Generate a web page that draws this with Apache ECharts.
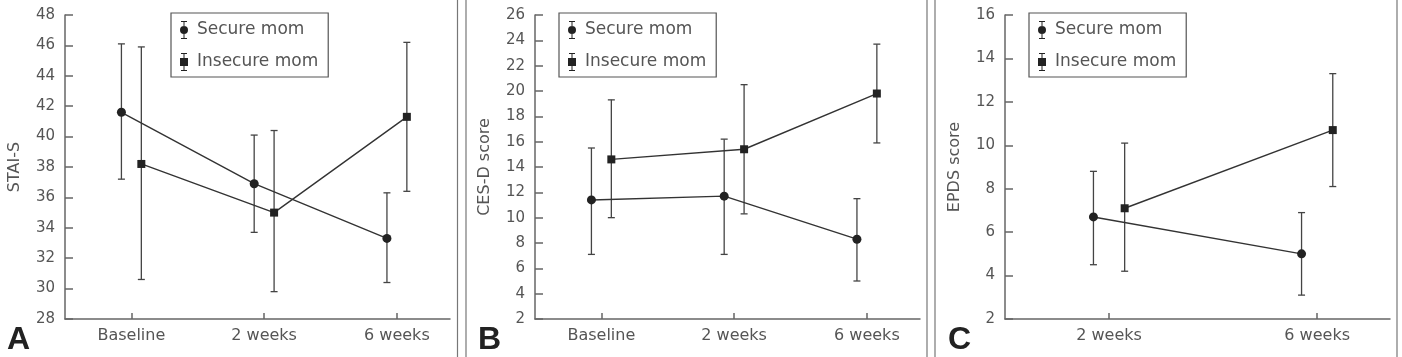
<!DOCTYPE html>
<html>
<head>
<meta charset="utf-8">
<title>STAI-S / CES-D / EPDS by attachment</title>
<script src="https://cdn.jsdelivr.net/npm/echarts@6/dist/echarts.min.js"></script>
<style>
  html, body { margin: 0; padding: 0; background: #fff; }
  #chart { width: 1402px; height: 357px; }
</style>
</head>
<body>
<div id="chart"></div>
<script>
// time points
const catsBase = ['Baseline', '2 weeks', '6 weeks'];
const catsEpds = ['2 weeks', '6 weeks'];

// A: STAI-S
const staiSecure = [41.6, 36.9, 33.3];
const staiSecureLow = [37.2, 33.7, 30.4];
const staiSecureHigh = [46.1, 40.1, 36.3];
const staiInsecure = [38.2, 35.0, 41.3];
const staiInsecureLow = [30.6, 29.8, 36.4];
const staiInsecureHigh = [45.9, 40.4, 46.2];

// B: CES-D
const cesdSecure = [11.4, 11.7, 8.3];
const cesdSecureLow = [7.1, 7.1, 5.0];
const cesdSecureHigh = [15.5, 16.2, 11.5];
const cesdInsecure = [14.6, 15.4, 19.8];
const cesdInsecureLow = [10.0, 10.3, 15.9];
const cesdInsecureHigh = [19.3, 20.5, 23.7];

// C: EPDS
const epdsSecure = [6.7, 5.0];
const epdsSecureLow = [4.5, 3.1];
const epdsSecureHigh = [8.8, 6.9];
const epdsInsecure = [7.1, 10.7];
const epdsInsecureLow = [4.2, 8.1];
const epdsInsecureHigh = [10.1, 13.3];

const yRanges = [[28, 48], [2, 26], [2, 16]];
const yNames = ['STAI-S', 'CES-D score', 'EPDS score'];
const panelLetters = ['A', 'B', 'C'];

const FONT = 'DejaVu Sans';
const TEXT = '#555';
const AXIS = '#666';
const INK = '#222';
const SHIFT = 0.075; // horizontal dodge between groups

const circleIcon = 'path://M1,0H7V1H1Z M3.5,0H4.5V18H3.5Z M1,17H7V18H1Z M0,9A4,4 0 1 1 8,9A4,4 0 1 1 0,9Z';
const squareIcon = 'path://M1,0H7V1H1Z M3.5,0H4.5V18H3.5Z M1,17H7V18H1Z M0,5H8V13H0Z';

const panels = [
  {cats: catsBase, xmax: 2.4, left: 65, sec: [staiSecure, staiSecureLow, staiSecureHigh], ins: [staiInsecure, staiInsecureLow, staiInsecureHigh]},
  {cats: catsBase, xmax: 2.4, left: 535, sec: [cesdSecure, cesdSecureLow, cesdSecureHigh], ins: [cesdInsecure, cesdInsecureLow, cesdInsecureHigh]},
  {cats: catsEpds, xmax: 1.35, left: 1005, sec: [epdsSecure, epdsSecureLow, epdsSecureHigh], ins: [epdsInsecure, epdsInsecureLow, epdsInsecureHigh]}
];

function renderErr(params, api) {
  const x = api.value(0);
  const lo = api.coord([x, api.value(1)]);
  const hi = api.coord([x, api.value(2)]);
  const c = 3.5;
  const style = {stroke: '#444', lineWidth: 1.3};
  return {
    type: 'group',
    children: [
      {type: 'line', shape: {x1: lo[0], y1: lo[1], x2: hi[0], y2: hi[1]}, style: style},
      {type: 'line', shape: {x1: hi[0] - c, y1: hi[1], x2: hi[0] + c, y2: hi[1]}, style: style},
      {type: 'line', shape: {x1: lo[0] - c, y1: lo[1], x2: lo[0] + c, y2: lo[1]}, style: style}
    ]
  };
}

const grid = [], xAxis = [], yAxis = [], series = [], legend = [];

panels.forEach(function (p, i) {
  const idx = p.cats.map(function (c, k) { return k; });
  grid.push({left: p.left, top: 15, width: 385, height: 304});
  xAxis.push({
    type: 'value', gridIndex: i, min: -0.5, max: p.xmax,
    splitLine: {show: false},
    axisLine: {onZero: false, lineStyle: {color: AXIS, width: 1.5}},
    axisTick: {inside: true, length: 6, customValues: idx, lineStyle: {color: AXIS, width: 1.5}},
    axisLabel: {
      customValues: idx,
      formatter: function (v) { return p.cats[Math.round(v)]; },
      color: TEXT, fontSize: 16, fontFamily: FONT, margin: 9
    }
  });
  yAxis.push({
    type: 'value', gridIndex: i, min: yRanges[i][0], max: yRanges[i][1], interval: 2,
    name: yNames[i], nameLocation: 'middle', nameGap: 42,
    nameTextStyle: {color: TEXT, fontSize: 16, fontFamily: FONT},
    splitLine: {show: false},
    axisLine: {show: true, onZero: false, lineStyle: {color: AXIS, width: 1.5}},
    axisTick: {show: true, inside: true, length: 8, lineStyle: {color: AXIS, width: 1.5}},
    axisLabel: {color: TEXT, fontSize: 15, fontFamily: FONT, margin: 10}
  });

  [['Secure mom', p.sec, -SHIFT, 'circle', 9], ['Insecure mom', p.ins, SHIFT, 'rect', 8]].forEach(function (g) {
    const vals = g[1];
    series.push({
      name: g[0] + ' SD', type: 'custom', xAxisIndex: i, yAxisIndex: i, z: 2,
      renderItem: renderErr,
      encode: {x: 0, y: [1, 2]},
      data: vals[0].map(function (v, k) { return [k + g[2], vals[1][k], vals[2][k]]; })
    });
    series.push({
      name: g[0], type: 'line', xAxisIndex: i, yAxisIndex: i, z: 3,
      symbol: g[3], symbolSize: g[4],
      itemStyle: {color: INK},
      lineStyle: {color: '#333', width: 1.4},
      data: vals[0].map(function (v, k) { return [k + g[2], v]; })
    });
  });

  legend.push({
    orient: 'vertical',
    left: p.left + [106, 24, 24][i],
    top: 13,
    padding: [8, 10, 6, 9],
    itemGap: 14,
    itemWidth: 8,
    itemHeight: 18,
    borderColor: '#555',
    borderWidth: 1.2,
    itemStyle: {borderWidth: 0},
    textStyle: {color: TEXT, fontSize: 17, fontFamily: FONT, padding: [0, 0, 0, 4]},
    data: [{name: 'Secure mom', icon: circleIcon}, {name: 'Insecure mom', icon: squareIcon}]
  });
});

const graphic = [];
[457.5, 466, 927, 935, 1397].forEach(function (x) {
  graphic.push({type: 'line', shape: {x1: x, y1: 0, x2: x, y2: 357}, style: {stroke: '#777', lineWidth: 1.2}, silent: true});
});
[7, 478, 948].forEach(function (x, i) {
  graphic.push({type: 'text', left: x, top: 324, style: {text: panelLetters[i], font: 'bold 32px "Liberation Sans"', fill: '#222'}});
});

const chart = echarts.init(document.getElementById('chart'));
chart.setOption({
  animation: false,
  backgroundColor: '#fff',
  grid: grid,
  xAxis: xAxis,
  yAxis: yAxis,
  legend: legend,
  graphic: graphic,
  series: series
});
</script>
</body>
</html>
